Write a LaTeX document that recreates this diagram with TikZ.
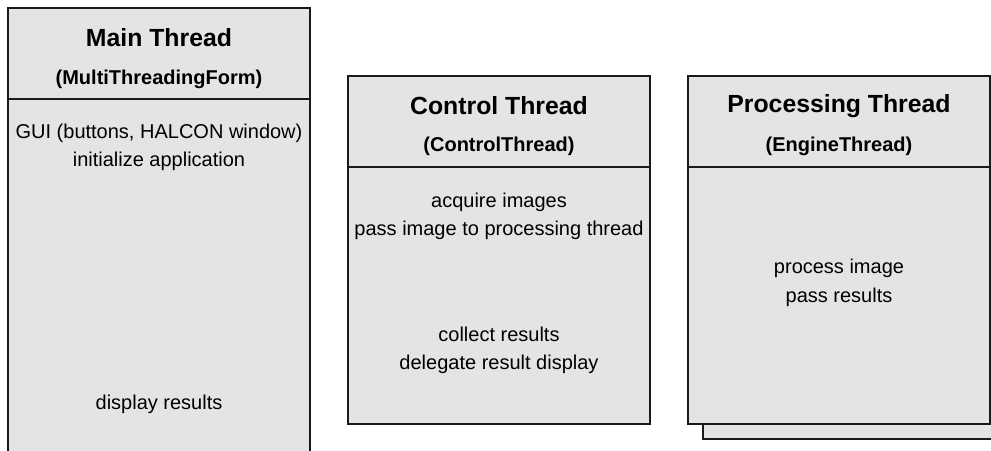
\documentclass[tikz,border=0pt]{standalone}
\usepackage{fontspec}
\setmainfont{Liberation Sans}
\usepackage{tikz}
\definecolor{boxfill}{HTML}{E4E4E4}
\definecolor{edge}{HTML}{1A1A1A}
\tikzset{
  box/.style={draw=edge, fill=boxfill, line width=1.5pt, line join=miter},
  rule/.style={draw=edge, line width=1.5pt},
  ttl/.style={font=\bfseries\fontsize{24.8}{28}\selectfont, inner sep=0pt},
  sub/.style={font=\bfseries\fontsize{20}{24}\selectfont, inner sep=0pt},
  txt/.style={font=\fontsize{20}{24}\selectfont, inner sep=0pt},
}
\begin{document}
\begin{tikzpicture}[x=1pt,y=-1pt]
  \clip (0,0) rectangle (991,450);
  % main thread, runs off the bottom
  \fill[boxfill] (8,8) rectangle (310,460);
  \draw[rule] (8,460) -- (8,8) -- (310,8) -- (310,460);
  \draw[rule] (8,99) -- (310,99);
  % control thread
  \draw[box] (348,76) rectangle (650,424);
  \draw[rule] (348,167) -- (650,167);
  % processing thread, with a second sheet behind it
  \draw[box] (703,91) rectangle (1005,439);
  \draw[box] (688,76) rectangle (990,424);
  \draw[rule] (688,167) -- (990,167);
  \node[ttl] (mainT) at (159,38) {Main Thread};
  \node[sub] (mainS) at (159,79) {(MultiThreadingForm)};
  \node[ttl] (ctrlT) at (499,106) {Control Thread};
  \node[sub] (ctrlS) at (499,146) {(ControlThread)};
  \node[ttl] (procT) at (839,106) {Processing Thread};
  \node[sub] (procS) at (839,146) {(EngineThread)};
  \foreach \N/\X/\Y/\T in {m1/159/133/{GUI (buttons, HALCON window)},
      m2/159/161/{initialize application}, m3/159/404/{display results},
      c1/499/202/{acquire images}, c2/499/230/{pass image to processing thread},
      c3/499/334/{collect results}, c4/499/364/{delegate result display},
      p1/839/268/{process image}, p2/839/297/{pass results}}
    \node[txt] (\N) at (\X,\Y) {\T};
\end{tikzpicture}
\end{document}
